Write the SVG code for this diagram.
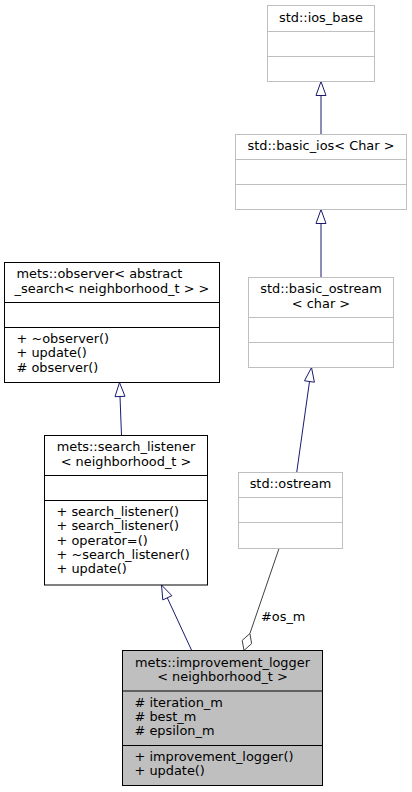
<svg xmlns="http://www.w3.org/2000/svg" width="412" height="792" viewBox="0 0 412 792">
<style>
text{font-family:"DejaVu Sans",sans-serif;font-size:12.9px;fill:#000;stroke:none}
.c{text-anchor:middle}
.g rect{fill:#fff;stroke:#bfbfbf}
.g line{stroke:#bfbfbf}
.b rect{fill:#fff;stroke:#000}
.b line{stroke:#000}
.f rect{fill:#bfbfbf;stroke:#000}
.f line{stroke:#000}
.inh line{stroke:#191970;fill:none}
.inh polygon{fill:#fff;stroke:#191970}
.agg line{stroke:#404040;fill:none}
.agg polygon{fill:#fff;stroke:#404040}
</style>
<g id="connectors">
<g class="inh">
<line x1="321" y1="134.5" x2="321" y2="95.5"/>
<polygon points="321,81.5 316,95.5 326,95.5"/>
<line x1="321" y1="277.5" x2="321" y2="223.5"/>
<polygon points="321,209.5 316,223.5 326,223.5"/>
<line x1="296.7" y1="472.5" x2="309.5" y2="381.5"/>
<polygon points="311.5,367.5 304.5,380.8 314.4,382.2"/>
<line x1="121.5" y1="435.5" x2="120" y2="396.5"/>
<polygon points="119.5,382.5 115,396.7 125,396.3"/>
<line x1="191.7" y1="650.5" x2="167.3" y2="597.8"/>
<polygon points="161.5,585 162.8,599.9 171.9,595.7"/>
</g>
<g class="agg">
<line x1="279" y1="548.5" x2="249.9" y2="633.5"/>
<polygon points="244,650.5 242.2,640.4 249.9,633.5 251.6,643.6"/>
<text x="261" y="621">#os_m</text>
</g>
</g>
<g id="ios_base" class="g">
<rect x="267.5" y="5.5" width="107" height="76"/>
<line x1="267.5" y1="31.5" x2="374.5" y2="31.5"/>
<line x1="267.5" y1="56.5" x2="374.5" y2="56.5"/>
<text class="c" x="321" y="21.5">std::ios_base</text>
</g>
<g id="basic_ios" class="g">
<rect x="235.5" y="134.5" width="171" height="75"/>
<line x1="235.5" y1="159.5" x2="406.5" y2="159.5"/>
<line x1="235.5" y1="184.5" x2="406.5" y2="184.5"/>
<text class="c" x="321" y="150">std::basic_ios&lt; Char &gt;</text>
</g>
<g id="basic_ostream" class="g">
<rect x="248.5" y="277.5" width="145" height="90"/>
<line x1="248.5" y1="317.5" x2="393.5" y2="317.5"/>
<line x1="248.5" y1="342.5" x2="393.5" y2="342.5"/>
<text class="c" x="321" y="293.3">std::basic_ostream</text>
<text class="c" x="321" y="307.6">&lt; char &gt;</text>
</g>
<g id="ostream" class="g">
<rect x="238.5" y="472.5" width="104" height="76"/>
<line x1="238.5" y1="497.5" x2="342.5" y2="497.5"/>
<line x1="238.5" y1="522.5" x2="342.5" y2="522.5"/>
<text class="c" x="290.5" y="488">std::ostream</text>
</g>
<g id="observer" class="b">
<rect x="4.5" y="262.5" width="215" height="120"/>
<line x1="4.5" y1="302.5" x2="219.5" y2="302.5"/>
<line x1="4.5" y1="327.5" x2="219.5" y2="327.5"/>
<text x="16.5" y="278.3">mets::observer&lt; abstract</text>
<text class="c" x="112" y="292.6">_search&lt; neighborhood_t &gt; &gt;</text>
<text x="16.5" y="343">+ ~observer()</text>
<text x="16.5" y="357.3">+ update()</text>
<text x="16.5" y="371.6"># observer()</text>
</g>
<g id="search_listener" class="b">
<rect x="44.5" y="435.5" width="163" height="149.5"/>
<line x1="44.5" y1="475.5" x2="207.5" y2="475.5"/>
<line x1="44.5" y1="500.5" x2="207.5" y2="500.5"/>
<text class="c" x="126" y="451.3">mets::search_listener</text>
<text class="c" x="126" y="465.6">&lt; neighborhood_t &gt;</text>
<text x="56.5" y="516">+ search_listener()</text>
<text x="56.5" y="530.3">+ search_listener()</text>
<text x="56.5" y="544.6">+ operator=()</text>
<text x="56.5" y="558.9">+ ~search_listener()</text>
<text x="56.5" y="573.2">+ update()</text>
</g>
<g id="improvement_logger" class="f">
<rect x="122.5" y="650.5" width="200" height="135"/>
<line x1="122.5" y1="691" x2="322.5" y2="691"/>
<line x1="122.5" y1="745.5" x2="322.5" y2="745.5"/>
<text class="c" x="222.5" y="666.5">mets::improvement_logger</text>
<text class="c" x="222.5" y="680.8">&lt; neighborhood_t &gt;</text>
<text x="134.5" y="706.5"># iteration_m</text>
<text x="134.5" y="720.8"># best_m</text>
<text x="134.5" y="735.1"># epsilon_m</text>
<text x="134.5" y="761">+ improvement_logger()</text>
<text x="134.5" y="775.3">+ update()</text>
</g>
</svg>
